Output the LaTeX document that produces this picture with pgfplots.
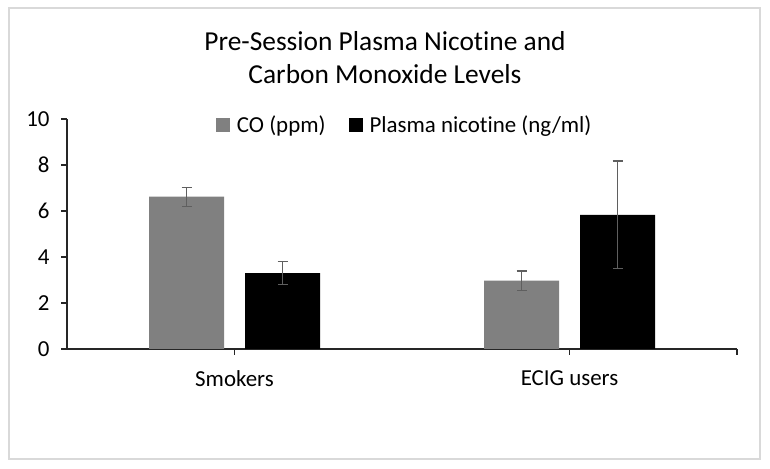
\documentclass[border=0pt]{standalone}
\usepackage{pgfplots}
\pgfplotsset{compat=1.18}
\usepackage{fontspec}
\setmainfont[Ligatures=NoCommon]{Carlito}
\definecolor{cobar}{HTML}{808080}
\definecolor{errc}{HTML}{5F5F5F}
\definecolor{axc}{HTML}{262626}
\begin{document}
\begin{tikzpicture}[x=1bp,y=1bp]
\path[use as bounding box] (0,0) rectangle (770,469);
\fill[white] (0,0) rectangle (770,469);
\draw[color=black!15, line width=1.5bp] (9,10) rectangle (760,461);
\node[anchor=base, font=\fontsize{27.5}{31}\selectfont, text=black] at (385,418) {Pre-Session Plasma Nicotine and};
\node[anchor=base, font=\fontsize{27.5}{31}\selectfont, text=black] at (385,385) {Carbon Monoxide Levels};
\begin{axis}[
  at={(67bp,120bp)}, anchor=south west,
  scale only axis, width=670bp, height=230bp,
  xmin=-0.5, xmax=1.5, ymin=0, ymax=10,
  ybar=21bp, bar width=75bp,
  axis x line*=bottom, axis y line*=left,
  axis line style={axc, line width=1.2bp},
  ytick={0,2,4,6,8,10},
  xtick={0,1,1.5},
  xticklabels={Smokers,ECIG users,},
  tick style={axc, line width=1.2bp},
  major tick length=6bp,
  tick align=outside,
  /pgf/number format/assume math mode=true,
  tick label style={font=\fontsize{23}{27}\selectfont, text=black},
  yticklabel style={xshift=-8bp},
  xticklabel style={yshift=-12bp},
  legend style={draw=none, fill=none, at={(rel axis cs:0.222,0.974)}, anchor=west,
     font=\fontsize{23}{27}\selectfont, text=black, inner sep=0pt,
     /tikz/every odd column/.append style={column sep=5bp},
     /tikz/every even column/.append style={column sep=21bp}},
  legend columns=2,
  legend image code/.code={\fill[#1] (0bp,-7bp) rectangle (14bp,7bp);},
  clip=false,
]
\addplot[fill=cobar, draw=none,
  error bars/.cd, y dir=both, y explicit,
  error bar style={errc, line width=1.3bp},
  error mark options={rotate=90, mark size=5bp, errc, line width=1.3bp}]
  coordinates {(0,6.62) +- (0,0.41) (1,2.97) +- (0,0.42)};
\addlegendentry{CO (ppm)}
\addplot[fill=black, draw=none,
  error bars/.cd, y dir=both, y explicit,
  error bar style={errc, line width=1.3bp},
  error mark options={rotate=90, mark size=5bp, errc, line width=1.3bp}]
  coordinates {(0,3.30) +- (0,0.50) (1,5.83) +- (0,2.34)};
\addlegendentry{Plasma nicotine (ng/ml)}
\end{axis}
\end{tikzpicture}
\end{document}
